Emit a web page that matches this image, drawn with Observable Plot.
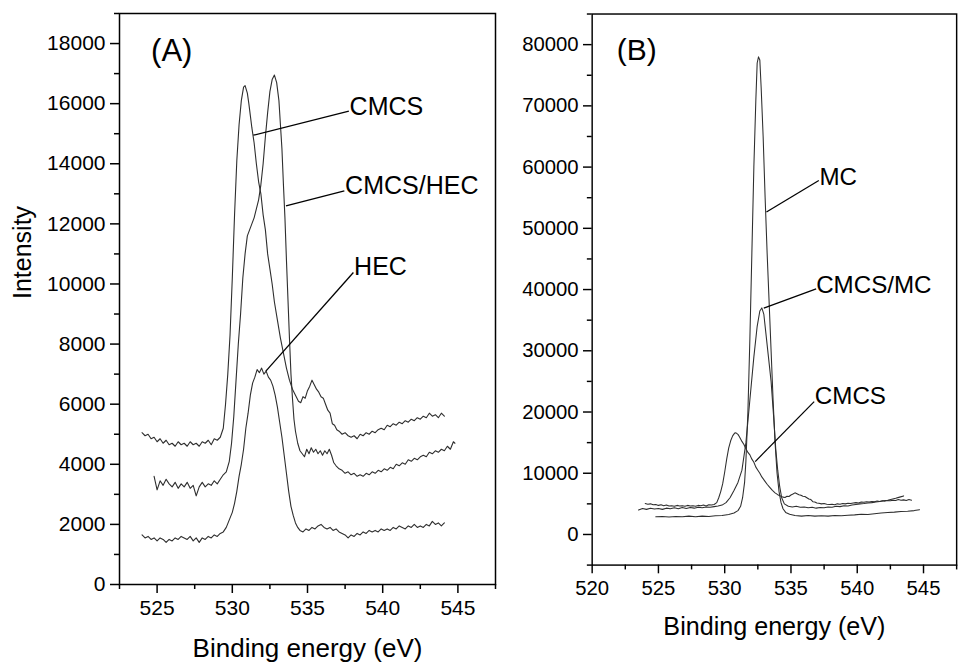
<!DOCTYPE html>
<html><head><meta charset="utf-8">
<script src="https://cdn.jsdelivr.net/npm/d3@7"></script>
<script src="https://cdn.jsdelivr.net/npm/@observablehq/plot@0.6"></script>
<style>
html,body{margin:0;padding:0;background:#fff;overflow:hidden;width:961px;height:663px;}
#wrap{position:relative;width:961px;height:663px;overflow:hidden;}
#a,#b{position:absolute;top:0;}
#a{left:0px}#b{left:495px}
</style></head><body><div id="wrap"><div id="a"></div><div id="b"></div></div>
<script>
// Panel A series: [binding energy (eV), intensity]
const cmcs = [[524.0,5050],[524.2,4950],[524.4,5000],[524.6,4850],[524.8,4900],[525.0,4750],[525.2,4850],[525.4,4700],[525.6,4800],[525.8,4650],[526.0,4700],[526.2,4600],[526.4,4750],[526.6,4650],[526.8,4700],[527.0,4600],[527.2,4750],[527.4,4650],[527.6,4700],[527.8,4600],[528.0,4750],[528.2,4700],[528.4,4800],[528.6,4650],[528.8,4850],[529.0,4800],[529.2,4900],[529.4,5200],[529.55,6000],[529.7,7000],[529.85,8300],[530.0,10200],[530.15,12300],[530.3,14100],[530.45,15300],[530.6,16100],[530.75,16550],[530.85,16600],[531.0,16350],[531.1,16000],[531.2,15600],[531.3,15200],[531.45,14700],[531.6,14000],[531.75,13400],[531.9,13000],[532.05,12300],[532.2,11800],[532.35,11000],[532.5,10500],[532.65,10000],[532.8,9400],[533.0,8800],[533.2,8200],[533.4,7700],[533.6,7200],[533.8,6800],[534.0,6500],[534.2,6300],[534.4,6100],[534.55,6050],[534.7,6250],[534.85,6200],[535.0,6450],[535.15,6600],[535.3,6800],[535.45,6650],[535.6,6500],[535.75,6400],[535.9,6250],[536.05,6200],[536.2,6000],[536.35,5800],[536.5,5700],[536.65,5350],[536.8,5300],[536.95,5150],[537.1,5100],[537.3,5000],[537.5,5050],[537.7,4950],[537.9,4900],[538.1,4950],[538.3,4850],[538.5,5000],[538.7,4950],[538.9,5050],[539.1,5000],[539.3,5100],[539.5,5050],[539.7,5150],[539.9,5200],[540.1,5150],[540.3,5300],[540.5,5250],[540.7,5350],[540.9,5300],[541.1,5400],[541.3,5350],[541.5,5450],[541.7,5400],[541.9,5500],[542.1,5450],[542.3,5550],[542.5,5500],[542.7,5600],[542.9,5550],[543.1,5700],[543.3,5600],[543.5,5650],[543.7,5550],[543.9,5700],[544.1,5600]];
const cmcsHec = [[524.8,3600],[525.0,3150],[525.2,3450],[525.4,3300],[525.6,3500],[525.8,3350],[526.0,3250],[526.2,3400],[526.4,3200],[526.6,3350],[526.8,3250],[527.0,3400],[527.2,3200],[527.4,3300],[527.6,2950],[527.8,3250],[528.0,3400],[528.2,3250],[528.4,3350],[528.6,3300],[528.8,3450],[529.0,3350],[529.2,3500],[529.4,3650],[529.6,3750],[529.8,4100],[529.95,4700],[530.1,5600],[530.25,6800],[530.4,8000],[530.55,9000],[530.7,10200],[530.85,11000],[531.0,11600],[531.15,11800],[531.3,12000],[531.45,12200],[531.6,12500],[531.75,12800],[531.9,13300],[532.05,14000],[532.2,14900],[532.35,15700],[532.5,16400],[532.65,16800],[532.8,16950],[532.95,16700],[533.1,16100],[533.2,15300],[533.3,14500],[533.4,13300],[533.5,12200],[533.6,10800],[533.7,9500],[533.8,8200],[533.9,7000],[534.0,6200],[534.1,5500],[534.2,5100],[534.35,4700],[534.5,4450],[534.65,4350],[534.8,4250],[534.95,4500],[535.1,4350],[535.25,4550],[535.4,4400],[535.55,4500],[535.7,4350],[535.85,4450],[536.0,4300],[536.15,4450],[536.3,4350],[536.45,4500],[536.6,4300],[536.75,4050],[536.9,3950],[537.1,3850],[537.3,3800],[537.5,3700],[537.7,3750],[537.9,3650],[538.1,3700],[538.3,3600],[538.5,3650],[538.7,3600],[538.9,3700],[539.1,3650],[539.3,3750],[539.5,3700],[539.7,3800],[539.9,3750],[540.1,3850],[540.3,3800],[540.5,3900],[540.7,3850],[540.9,4000],[541.1,3950],[541.3,4050],[541.5,4000],[541.7,4150],[541.9,4100],[542.1,4200],[542.3,4150],[542.5,4250],[542.7,4300],[542.9,4250],[543.1,4400],[543.3,4350],[543.5,4450],[543.7,4400],[543.9,4500],[544.1,4450],[544.3,4600],[544.5,4500],[544.7,4750],[544.8,4700]];
const hec = [[524.0,1650],[524.2,1550],[524.4,1600],[524.6,1500],[524.8,1550],[525.0,1450],[525.2,1550],[525.4,1500],[525.6,1400],[525.8,1500],[526.0,1450],[526.2,1550],[526.4,1500],[526.6,1600],[526.8,1550],[527.0,1500],[527.2,1600],[527.4,1450],[527.6,1550],[527.8,1400],[528.0,1550],[528.2,1500],[528.4,1600],[528.6,1550],[528.8,1650],[529.0,1600],[529.2,1700],[529.4,1750],[529.6,1900],[529.8,2150],[530.0,2400],[530.15,2700],[530.3,3100],[530.45,3600],[530.6,4000],[530.75,4500],[530.9,5200],[531.05,5700],[531.2,6300],[531.35,6700],[531.5,6900],[531.65,7150],[531.8,7050],[531.95,7200],[532.1,7000],[532.25,7100],[532.4,6900],[532.55,6800],[532.7,6600],[532.85,6300],[533.0,5900],[533.15,5400],[533.3,4900],[533.45,4300],[533.6,3700],[533.75,3100],[533.9,2600],[534.05,2300],[534.2,2050],[534.35,1900],[534.5,1800],[534.7,1750],[534.9,1850],[535.1,1800],[535.3,1900],[535.5,1850],[535.7,1950],[535.9,2000],[536.1,1900],[536.3,1850],[536.5,1900],[536.7,1800],[536.9,1850],[537.1,1750],[537.3,1700],[537.5,1650],[537.7,1550],[537.9,1650],[538.1,1600],[538.3,1700],[538.5,1650],[538.7,1750],[538.9,1700],[539.1,1800],[539.3,1750],[539.5,1800],[539.7,1750],[539.9,1850],[540.1,1800],[540.3,1850],[540.5,1800],[540.7,1900],[540.9,1850],[541.1,1950],[541.3,1900],[541.5,1850],[541.7,1950],[541.9,1900],[542.1,2000],[542.3,1900],[542.5,1950],[542.7,1900],[542.9,2000],[543.1,1950],[543.3,2100],[543.5,2000],[543.7,2050],[543.9,1950],[544.1,2050]];
// Panel B series
const mc = [[524.8,2900],[525.3,2950],[525.8,2850],[526.3,2950],[526.8,2900],[527.3,3000],[527.8,2900],[528.3,3000],[528.8,2950],[529.3,3050],[529.8,3100],[530.3,3250],[530.7,3500],[531.0,3900],[531.2,4600],[531.35,6000],[531.5,8500],[531.6,12000],[531.75,20000],[531.9,32000],[532.05,46000],[532.2,60000],[532.35,71000],[532.45,77000],[532.55,78000],[532.65,77500],[532.75,73000],[532.9,65000],[533.05,55000],[533.2,46000],[533.35,38000],[533.5,30000],[533.65,22000],[533.8,15000],[533.95,10000],[534.1,7000],[534.25,5200],[534.4,4200],[534.6,3600],[534.9,3300],[535.3,3100],[535.8,3000],[536.3,3100],[536.8,3000],[537.3,3050],[537.8,3000],[538.3,3100],[538.8,3050],[539.3,3150],[539.8,3200],[540.3,3300],[540.8,3250],[541.3,3400],[541.8,3500],[542.3,3600],[542.8,3650],[543.3,3750],[543.8,3800],[544.3,3900],[544.7,4050]];
const cmcsMc = [[523.5,4000],[523.8,4250],[524.1,4100],[524.4,4300],[524.7,4150],[525.0,4250],[525.3,4100],[525.6,4300],[525.9,4200],[526.2,4350],[526.5,4200],[526.8,4400],[527.1,4250],[527.4,4400],[527.7,4300],[528.0,4450],[528.3,4350],[528.6,4500],[528.9,4450],[529.2,4550],[529.5,4650],[529.8,4800],[530.1,5200],[530.4,6000],[530.7,7200],[531.0,8500],[531.3,10500],[531.6,15000],[531.9,22000],[532.2,29000],[532.45,34000],[532.65,36500],[532.8,37000],[532.95,36000],[533.1,33000],[533.3,29000],[533.5,25000],[533.7,19000],[533.85,14000],[534.0,10500],[534.15,7800],[534.3,6000],[534.5,5000],[534.8,4600],[535.1,4500],[535.4,4600],[535.7,4450],[536.0,4500],[536.3,4350],[536.6,4450],[536.9,4300],[537.2,4400],[537.5,4350],[537.8,4500],[538.1,4450],[538.4,4600],[538.7,4550],[539.0,4700],[539.3,4650],[539.6,4800],[539.9,4900],[540.2,5000],[540.5,5050],[540.8,5150],[541.1,5200],[541.4,5300],[541.7,5400],[542.0,5500],[542.3,5600],[542.6,5750],[542.9,5900],[543.2,6100],[543.5,6300]];

// Annotation labels and leader lines
const labelsA = ["CMCS","CMCS/HEC","HEC"];
const labelXA = [537.8, 537.5, 538.1];
const labelYA = [15900, 13250, 10550];
const leaderFromA = [[531.4,14950],[533.57,12600],[532.23,7100]];
const leaderToA = [[537.75,15750],[537.45,13100],[538.05,10380]];

const labelsB = ["MC","CMCS/MC","CMCS"];
const labelXB = [537.15, 536.9, 536.8];
const labelYB = [58300, 40700, 22600];
const leaderFromB = [[533.15,52660],[532.95,36960],[532.3,11900]];
const leaderToB = [[537.1,57800],[536.9,40100],[536.75,21700]];

const tagA = "(A)", tagPosA = [524.6, 17750];
const tagB = "(B)", tagPosB = [521.85, 79000];

const xMajorA = [525,530,535,540,545], xMinorA = [522.5,527.5,532.5,537.5,542.5,547.5];
const yMajorA = [0,2000,4000,6000,8000,10000,12000,14000,16000,18000];
const yMinorA = [1000,3000,5000,7000,9000,11000,13000,15000,17000,19000];
const xMajorB = [520,525,530,535,540,545], xMinorB = [522.5,527.5,532.5,537.5,542.5,547.5];
const yMajorB = [0,10000,20000,30000,40000,50000,60000,70000,80000];
const yMinorB = [-5000,5000,15000,25000,35000,45000,55000,65000,75000,85000];

const FONT = "'Liberation Sans', Arial, Helvetica, sans-serif";
const TICK_FONT = 21;

function panel(cfg) {
  const ann = cfg.labels.map((l, i) => ({label: l, lx: cfg.labelX[i], ly: cfg.labelY[i],
    x1: cfg.from[i][0], y1: cfg.from[i][1], x2: cfg.to[i][0], y2: cfg.to[i][1]}));
  const marks = [
    Plot.axisY({ticks: cfg.yMajor, tickSize: 9, tickPadding: 5, tickFormat: d => String(d), label: null, fontSize: TICK_FONT, strokeWidth: 1.5}),
    Plot.axisY({ticks: cfg.yMinor, tickSize: 5, tickFormat: () => "", label: null, strokeWidth: 1.5}),
    Plot.axisX({ticks: cfg.xMajor, tickSize: 9, tickPadding: 7, tickFormat: d => String(d), label: null, fontSize: TICK_FONT, strokeWidth: 1.5}),
    Plot.axisX({ticks: cfg.xMinor, tickSize: 5, tickFormat: () => "", label: null, strokeWidth: 1.5}),
    ...cfg.series.map(s => Plot.line(s, {x: d => d[0], y: d => d[1], stroke: "#2e2e2e", strokeWidth: 1.1})),
    Plot.link(ann, {x1: "x1", y1: "y1", x2: "x2", y2: "y2", stroke: "#000", strokeWidth: 1.3}),
    Plot.text(ann, {x: "lx", y: "ly", text: "label", textAnchor: "start", fontSize: 25, fill: "#000"}),
    Plot.text([cfg.tag], {x: cfg.tagPos[0], y: cfg.tagPos[1], textAnchor: "start", fontSize: 31, fill: "#000"}),
    Plot.text(["Binding energy (eV)"], {frameAnchor: "bottom", dy: 72, fontSize: 26, fill: "#000"}),
    Plot.frame({stroke: "#000", strokeWidth: 1.5})
  ];
  if (cfg.ylabel) marks.push(Plot.text([cfg.ylabel], {frameAnchor: "left", dx: -97, rotate: -90, fontSize: 25, fill: "#000"}));
  const svg = Plot.plot({
    width: cfg.width, height: 663,
    marginLeft: cfg.marginLeft, marginRight: cfg.marginRight, marginTop: cfg.marginTop, marginBottom: 79,
    x: {domain: cfg.xDomain},
    y: {domain: cfg.yDomain},
    style: {fontFamily: FONT, fontSize: TICK_FONT + "px", color: "#000", background: "transparent", overflow: "visible"},
    marks
  });
  d3.select(svg).selectAll('g[aria-label$="tick label"]').attr("font-size", TICK_FONT).selectAll("text").style("font-size", TICK_FONT + "px");
  return svg;
}

document.getElementById("a").appendChild(panel({
  width: 500, marginLeft: 119, marginRight: 5, marginTop: 13,
  xDomain: [522.5, 547.5], yDomain: [0, 19000],
  xMajor: xMajorA, xMinor: xMinorA, yMajor: yMajorA, yMinor: yMinorA,
  series: [cmcs, cmcsHec, hec],
  labels: labelsA, labelX: labelXA, labelY: labelYA, from: leaderFromA, to: leaderToA,
  tag: tagA, tagPos: tagPosA, ylabel: "Intensity"
}));
document.getElementById("b").appendChild(panel({
  width: 482, marginLeft: 100, marginRight: 5, marginTop: 14,
  xDomain: [520, 547.5], yDomain: [-5000, 85000],
  xMajor: xMajorB, xMinor: xMinorB, yMajor: yMajorB, yMinor: yMinorB,
  series: [mc, cmcsMc, cmcs],
  labels: labelsB, labelX: labelXB, labelY: labelYB, from: leaderFromB, to: leaderToB,
  tag: tagB, tagPos: tagPosB, ylabel: null
}));
</script></body></html>
